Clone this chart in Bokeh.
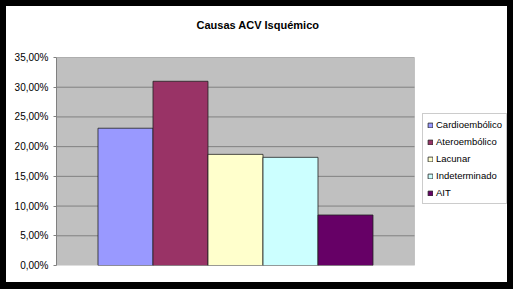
from bokeh.plotting import figure
from bokeh.models import (ColumnDataSource, Range1d, FixedTicker, Legend, LegendItem,
                          Title, BoxAnnotation)
from bokeh.embed import file_html
from bokeh.resources import INLINE

title_text = "Causas ACV Isquémico"
series = ["Cardioembólico", "Ateroembólico", "Lacunar", "Indeterminado", "AIT"]
values = [23.1, 31.0, 18.7, 18.2, 8.5]
colors = ["#9999FF", "#993366", "#FFFFCC", "#CCFFFF", "#660066"]
tick_values = [0, 5, 10, 15, 20, 25, 30, 35]
tick_labels = ["0,00%", "5,00%", "10,00%", "15,00%", "20,00%", "25,00%", "30,00%", "35,00%"]

FONT = "Liberation Sans"

# layout (in category units): gap beside the bar group, and extra room for the legend
GAP = 1.2545
area_start = -GAP
area_end = len(series) - 1 + GAP
view_end = area_start + 451 / 55.0

src = ColumnDataSource(dict(x=list(range(len(series))), top=values, color=colors, name=series))

p = figure(width=513, height=289, output_backend="svg", toolbar_location=None, title=None,
           x_range=Range1d(area_start, view_end), y_range=Range1d(0, 35),
           min_border_left=50, min_border_right=12, min_border_top=51, min_border_bottom=30)
p.styles = {"border-style": "solid", "border-color": "black", "border-width": "6px 6px 7px 6px"}

spacer = Title(text=" ", text_font=FONT, text_font_size="11px", standoff=8)
p.add_layout(spacer, "above")
main_title = Title(text=title_text, text_font=FONT, text_font_size="11px",
                   text_font_style="bold", text_color="black", align="left",
                   offset=140, standoff=10)
p.add_layout(main_title, "above")

p.background_fill_color = "white"
p.border_fill_color = "white"
p.outline_line_color = None

# grey plot area
plot_area = BoxAnnotation(left=area_start, right=area_end, fill_color="#C0C0C0",
                          fill_alpha=1.0, line_color=None, level="underlay")
p.add_layout(plot_area)

# horizontal grid lines, limited to the plot area
grid_src = ColumnDataSource(dict(y=tick_values[1:]))
p.segment(x0=area_start, x1=area_end, y0="y", y1="y", source=grid_src,
          line_color="#808080", line_width=1)

r = p.vbar(x="x", top="top", width=1.0, source=src, fill_color="color",
           line_color="#222222", line_width=0.8)

p.xaxis.visible = False
p.xgrid.visible = False
p.ygrid.visible = False

ya = p.yaxis[0]
ya.ticker = FixedTicker(ticks=tick_values)
ya.major_label_overrides = {v: l for v, l in zip(tick_values, tick_labels)}
ya.major_label_text_font = FONT
ya.major_label_text_font_size = "10px"
ya.major_label_text_color = "black"
ya.axis_line_color = "#808080"
ya.major_tick_line_color = "#808080"
ya.major_tick_out = 3
ya.major_tick_in = 0
ya.minor_tick_line_color = None
ya.major_label_standoff = 5

# plot-area border
area_border = BoxAnnotation(left=area_start, right=area_end, bottom=0, top=35,
                            fill_alpha=0.0, line_color="#808080", line_width=1,
                            level="overlay")
p.add_layout(area_border)

items = [LegendItem(label=series[i], renderers=[r], index=i) for i in range(len(series))]
legend = Legend(items=items, location=(366, 61), orientation="vertical", level="overlay")
legend.label_text_font = FONT
legend.label_text_font_size = "9.5px"
legend.label_text_color = "black"
legend.glyph_width = 6
legend.glyph_height = 6
legend.label_height = 13
legend.label_standoff = 3
legend.spacing = 4
legend.padding = 4
legend.margin = 0
legend.border_line_color = "#999999"
legend.border_line_width = 1
legend.background_fill_color = "white"
legend.background_fill_alpha = 1.0
p.add_layout(legend, "center")

open("out.html", "w").write(file_html(p, INLINE))
